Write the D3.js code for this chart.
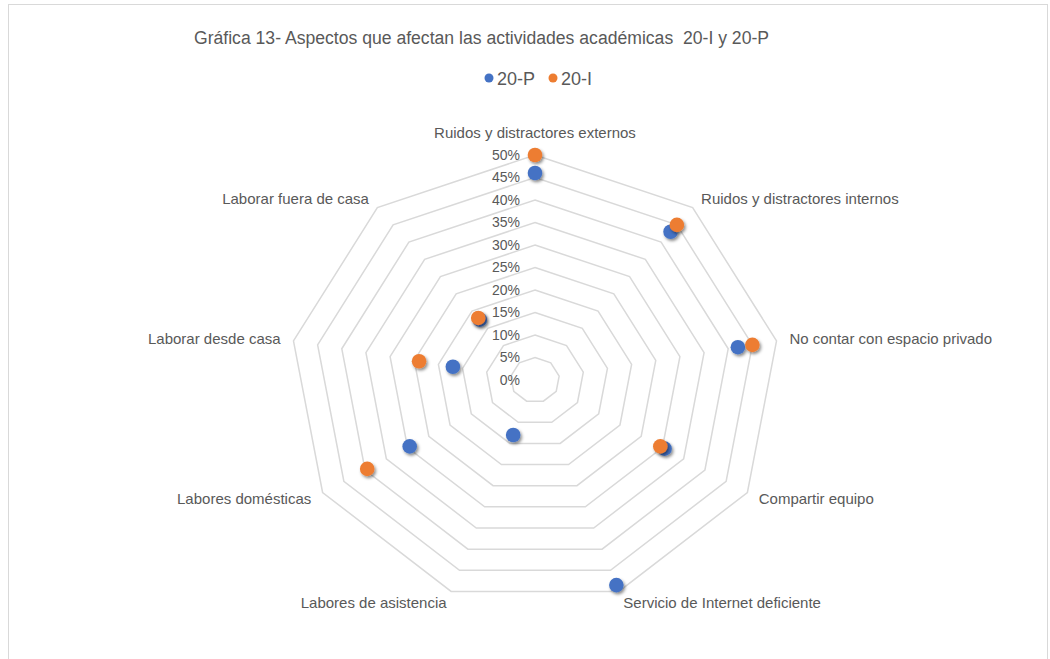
<!DOCTYPE html>
<html>
<head>
<meta charset="utf-8">
<script src="https://cdn.jsdelivr.net/npm/d3@7"></script>
<style>
  html, body { margin: 0; padding: 0; background: #ffffff; }
  svg { display: block; }
  text { font-family: "Liberation Sans", Arial, sans-serif; fill: #595959; }
</style>
</head>
<body>
<svg id="chart" width="1050" height="659"></svg>
<script>
const titleText = "Gráfica 13- Aspectos que afectan las actividades académicas  20-I y 20-P";
const categories = [
  "Ruidos y distractores externos",
  "Ruidos y distractores internos",
  "No contar con espacio privado",
  "Compartir equipo",
  "Servicio de Internet deficiente",
  "Labores de asistencia",
  "Labores domésticas",
  "Laborar desde casa",
  "Laborar fuera de casa"
];
const seriesNames = ["20-P", "20-I"];
const values20P = [46, 43, 42, 30.5, 48.5, 13, 29.5, 17, 17.5];
const values20I = [50, 45, 45, 29.5, null, null, 39.5, 24, 18];
const tickValues = [0, 5, 10, 15, 20, 25, 30, 35, 40, 45, 50];
const seriesColors = ["#4472C4", "#ED7D31"];

const svg = d3.select("#chart");
const cx = 535, cy = 380, R = 225, sx = 1.09;

// frame
svg.append("rect").attr("x", 8.5).attr("y", 4.5).attr("width", 1039).attr("height", 720)
  .attr("fill", "#fff").attr("stroke", "#d9d9d9").attr("stroke-width", 1);

const defs = svg.append("defs");
const f = defs.append("filter").attr("id", "shadow").attr("x", "-50%").attr("y", "-50%").attr("width", "200%").attr("height", "200%");
f.append("feDropShadow").attr("dx", 1.5).attr("dy", 2).attr("stdDeviation", 1.4)
  .attr("flood-color", "#000").attr("flood-opacity", 0.45);

const rScale = d3.scaleLinear().domain([0, 50]).range([0, R]);
const aScale = d3.scaleLinear().domain([0, categories.length]).range([0, 2 * Math.PI]);

const px = (i, v) => cx + rScale(v) * Math.sin(aScale(i)) * sx;
const py = (i, v) => cy - rScale(v) * Math.cos(aScale(i));

// title
svg.append("text").attr("x", 481.5).attr("y", 44).attr("text-anchor", "middle")
  .style("font-size", "17.6px").style("white-space", "pre").text(titleText);

// legend
const legendItems = [{name: seriesNames[0], x: 489, color: seriesColors[0]},
                     {name: seriesNames[1], x: 553, color: seriesColors[1]}];
const lg = svg.append("g");
legendItems.forEach(d => {
  lg.append("circle").attr("cx", d.x).attr("cy", 78).attr("r", 4.5).attr("fill", d.color);
  lg.append("text").attr("x", d.x + 8).attr("y", 84.5).style("font-size", "18px").text(d.name);
});

// grid rings
const ringLine = d3.line().curve(d3.curveLinearClosed);
const grid = svg.append("g");
tickValues.filter(t => t > 0).forEach(t => {
  const pts = categories.map((c, i) => [px(i, t), py(i, t)]);
  grid.append("path").attr("d", ringLine(pts)).attr("fill", "none")
    .attr("stroke", "#d9d9d9").attr("stroke-width", 1.5);
});

// tick labels
svg.append("g").selectAll("text").data(tickValues).join("text")
  .attr("x", cx - 15).attr("y", d => py(0, d)).attr("dy", "0.35em")
  .attr("text-anchor", "end").style("font-size", "14px")
  .text(d => d + "%");

// category labels
svg.append("g").selectAll("text").data(categories).join("text")
  .each(function(c, i) {
    const a = aScale(i);
    const s = Math.sin(a);
    const off = 12;
    const anchor = s > 0.01 ? "start" : (s < -0.01 ? "end" : "middle");
    const x = cx + (R + off) * s * sx;
    let y = cy - (R + off) * Math.cos(a);
    if (anchor === "middle") y = cy - R - 22;
    d3.select(this).attr("x", x).attr("y", y).attr("dy", "0.35em")
      .attr("text-anchor", anchor).style("font-size", "15px").text(c);
  });

// series points
const series = [values20P, values20I];
series.forEach((vals, si) => {
  svg.append("g").selectAll("circle")
    .data(vals.map((v, i) => ({v, i})).filter(d => d.v !== null))
    .join("circle")
    .attr("cx", d => px(d.i, d.v)).attr("cy", d => py(d.i, d.v))
    .attr("r", 7.3).attr("fill", seriesColors[si])
    .attr("filter", "url(#shadow)");
});
</script>
</body>
</html>
